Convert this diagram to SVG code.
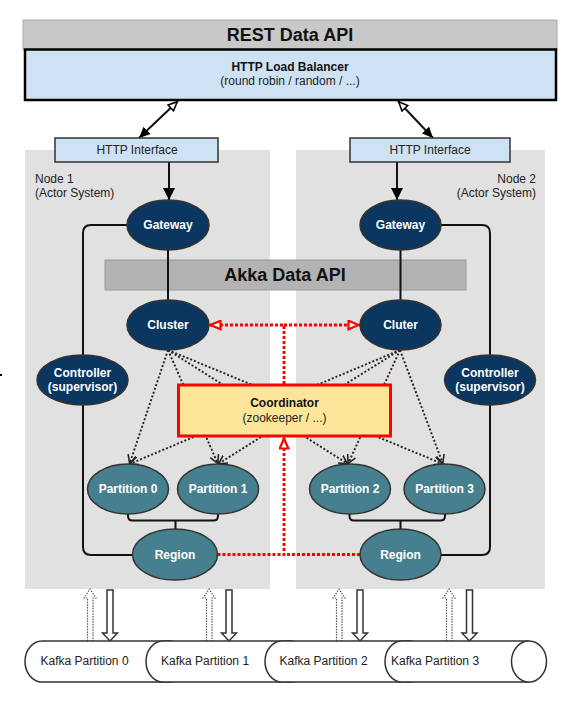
<svg xmlns="http://www.w3.org/2000/svg" width="579" height="701" viewBox="0 0 579 701">
<style>
text{font-family:"Liberation Sans",Arial,Helvetica,sans-serif}
.wb{fill:#fff;font-weight:bold;font-size:12px;text-anchor:middle}
.k{fill:#222;font-size:12px}
.navy{fill:#0b365f;stroke:#333;stroke-width:1.5}
.teal{fill:#467f8d;stroke:#333;stroke-width:1.5}
.solid{fill:none;stroke:#111;stroke-width:2}
.dot{fill:none;stroke:#222;stroke-width:1.9;stroke-dasharray:2 2}
.red{fill:none;stroke:#ff0000;stroke-width:2.8;stroke-dasharray:3 2}
.cyl{fill:#fff;stroke:#333;stroke-width:1.5}
</style>
<defs>
<marker id="fill" markerUnits="userSpaceOnUse" viewBox="0 0 12 12" refX="12" refY="6" markerWidth="12" markerHeight="12" orient="auto"><path d="M0,0 L12,6 L0,12 Z" fill="#000" stroke="none"/></marker>
<marker id="fillS" markerUnits="userSpaceOnUse" viewBox="0 0 11 10" refX="11" refY="5" markerWidth="11" markerHeight="10" orient="auto"><path d="M0,0 L11,5 L0,10 Z" fill="#000" stroke="none"/></marker>
<marker id="openS" markerUnits="userSpaceOnUse" viewBox="0 0 11 10" refX="0" refY="5" markerWidth="11" markerHeight="10" orient="auto"><path d="M1,5 L10,1 L10,9 Z" fill="#fff" stroke="#000" stroke-width="1.6"/></marker>
<marker id="redO" markerUnits="userSpaceOnUse" viewBox="0 0 13 11" refX="13" refY="5.5" markerWidth="13" markerHeight="11" orient="auto"><path d="M1.5,1.2 L11.5,5.5 L1.5,9.8 Z" fill="#fff" stroke="#ff0000" stroke-width="2.2"/></marker>
<marker id="vee" markerUnits="userSpaceOnUse" viewBox="0 0 9 10" refX="9" refY="5" markerWidth="9" markerHeight="10" orient="auto"><path d="M0,0.5 L8.5,5 L0,9.5" fill="none" stroke="#222" stroke-width="1.6"/></marker>
</defs>

<rect x="0" y="374" width="2" height="2" fill="#000"/>

<g id="node1-region"><rect x="25" y="150" width="245" height="439" fill="#e1e1e1"/>
<text x="35" y="183" class="k">Node 1</text><text x="35" y="196.5" class="k">(Actor System)</text></g>
<g id="node2-region"><rect x="296" y="150" width="249" height="439" fill="#e1e1e1"/>
<text x="536" y="183" class="k" text-anchor="end">Node 2</text><text x="536" y="196.5" class="k" text-anchor="end">(Actor System)</text></g>

<g id="rest-api"><rect x="23" y="20" width="534" height="30" fill="#c8c8c8" stroke="#aaa" stroke-width="1"/>
<text x="290" y="41" font-size="18" font-weight="bold" text-anchor="middle" fill="#111">REST Data API</text></g>
<g id="load-balancer"><rect x="25" y="49.5" width="531" height="50.5" fill="#cfe2f3" stroke="#000" stroke-width="2.5"/>
<text x="290" y="71" font-size="12" font-weight="bold" text-anchor="middle" fill="#111">HTTP Load Balancer</text>
<text x="290" y="85" font-size="12" text-anchor="middle" fill="#222">(round robin / random / ...)</text></g>

<g id="akka-api"><rect x="105" y="260" width="361" height="30" fill="#b3b3b3" stroke="#999" stroke-width="1"/>
<text x="285" y="281" font-size="18" font-weight="bold" text-anchor="middle" fill="#111">Akka Data API</text></g>

<g id="connectors">
<path class="solid" d="M178,101 L139,138" stroke-width="1.8" marker-start="url(#openS)" marker-end="url(#fillS)"/>
<path class="solid" d="M398,101 L433,138" stroke-width="1.8" marker-start="url(#openS)" marker-end="url(#fillS)"/>
<path class="solid" d="M169,162 L169,200" marker-end="url(#fill)"/>
<path class="solid" d="M397,162 L397,200" marker-end="url(#fill)"/>
<path class="solid" d="M168,250 L168,300"/>
<path class="solid" d="M400.5,250 L400.5,300"/>
<path class="solid" d="M127,225 L91,225 Q83,225 83,233 L83,547 Q83,555 91,555 L133,555"/>
<path class="solid" d="M441,225 L482,225 Q490,225 490,233 L490,547 Q490,555 482,555 L441,555"/>
<path class="solid" stroke-width="1.7" d="M128,514 L128,516 Q128,520.5 132.5,520.5 L213.5,520.5 Q218,520.5 218,516 L218,514 M175.5,520.5 L175.5,529"/>
<path class="solid" stroke-width="1.7" d="M349.5,514 L349.5,516 Q349.5,520.5 354,520.5 L440.5,520.5 Q445,520.5 445,516 L445,514 M400.5,520.5 L400.5,529"/>
<path class="dot" d="M168,350 L129.5,464" marker-end="url(#vee)"/>
<path class="dot" d="M168,350 L218,464" marker-end="url(#vee)"/>
<path class="dot" d="M168,350 L348,464" marker-end="url(#vee)"/>
<path class="dot" d="M168,350 L443,464" marker-end="url(#vee)"/>
<path class="dot" d="M400,350 L129.5,464" marker-end="url(#vee)"/>
<path class="dot" d="M400,350 L218,464" marker-end="url(#vee)"/>
<path class="dot" d="M400,350 L348,464" marker-end="url(#vee)"/>
<path class="dot" d="M400,350 L443,464" marker-end="url(#vee)"/>
<path class="red" d="M284,384 L284,325 L209,325" marker-end="url(#redO)"/>
<path class="red" d="M284,325 L360,325" marker-end="url(#redO)"/>
<path class="red" d="M217.5,554.5 L284,554.5 L284,437" marker-end="url(#redO)"/>
<path class="red" d="M360,554.5 L284,554.5"/>
<g fill="#fff" stroke="#555" stroke-width="1.2" stroke-dasharray="1.5 1.2">
<path d="M87.5,641 L87.5,598 L84,598 L90,589 L96,598 L93,598 L93,641"/>
<path d="M206.5,641 L206.5,598 L203,598 L209,589 L215,598 L212,598 L212,641"/>
<path d="M336.5,641 L336.5,598 L333,598 L339,589 L345,598 L342,598 L342,641"/>
<path d="M446.5,641 L446.5,598 L443,598 L449,589 L455,598 L452,598 L452,641"/>
</g>
<g fill="#fff" stroke="#333" stroke-width="1.5">
<path d="M107,590 L113,590 L113,633 L117.5,633 L110,641 L102.5,633 L107,633 Z"/>
<path d="M226,590 L232,590 L232,633 L236.5,633 L229,641 L221.5,633 L226,633 Z"/>
<path d="M357,590 L363,590 L363,633 L367.5,633 L360,641 L352.5,633 L357,633 Z"/>
<path d="M466.5,590 L472.5,590 L472.5,633 L477,633 L469.5,641 L462,633 L466.5,633 Z"/>
</g>
</g>

<g id="http-if-1"><rect x="55" y="138" width="163" height="24" fill="#cfe2f3" stroke="#333" stroke-width="1.5"/><text x="137" y="154" class="k" text-anchor="middle">HTTP Interface</text></g>
<g id="http-if-2"><rect x="350" y="138" width="160" height="24" fill="#cfe2f3" stroke="#333" stroke-width="1.5"/><text x="430" y="154" class="k" text-anchor="middle">HTTP Interface</text></g>

<g id="gateway-1"><ellipse cx="168" cy="225" rx="41" ry="25" class="navy"/><text x="168" y="229" class="wb">Gateway</text></g>
<g id="gateway-2"><ellipse cx="400.5" cy="225" rx="40.5" ry="25" class="navy"/><text x="400.5" y="229" class="wb">Gateway</text></g>
<g id="cluster-1"><ellipse cx="168" cy="325" rx="41" ry="25" class="navy"/><text x="168" y="329" class="wb">Cluster</text></g>
<g id="cluster-2"><ellipse cx="400.5" cy="325" rx="40.5" ry="25" class="navy"/><text x="400.5" y="329" class="wb">Cluter</text></g>
<g id="controller-1"><ellipse cx="82.5" cy="380" rx="45.5" ry="25" class="navy"/><text x="82.5" y="377" class="wb">Controller</text><text x="82.5" y="391" class="wb">(supervisor)</text></g>
<g id="controller-2"><ellipse cx="490" cy="380" rx="45.5" ry="25" class="navy"/><text x="490" y="377" class="wb">Controller</text><text x="490" y="391" class="wb">(supervisor)</text></g>

<g id="coordinator"><rect x="178.5" y="385" width="212" height="51" fill="#ffe599" stroke="#ff0000" stroke-width="3"/>
<text x="284.5" y="407" font-size="12" font-weight="bold" text-anchor="middle" fill="#111">Coordinator</text>
<text x="284.5" y="422" font-size="12" text-anchor="middle" fill="#222">(zookeeper / ...)</text></g>

<g id="partition-0"><ellipse cx="128" cy="489" rx="40.5" ry="25" class="teal"/><text x="128" y="493" class="wb">Partition 0</text></g>
<g id="partition-1"><ellipse cx="218" cy="489" rx="40.5" ry="25" class="teal"/><text x="218" y="493" class="wb">Partition 1</text></g>
<g id="partition-2"><ellipse cx="350" cy="489" rx="40.5" ry="25" class="teal"/><text x="350" y="493" class="wb">Partition 2</text></g>
<g id="partition-3"><ellipse cx="444.5" cy="489" rx="40.5" ry="25" class="teal"/><text x="444.5" y="493" class="wb">Partition 3</text></g>
<g id="region-1"><ellipse cx="175" cy="554.5" rx="42.5" ry="25.5" class="teal"/><text x="175" y="558.5" class="wb">Region</text></g>
<g id="region-2"><ellipse cx="400.5" cy="554.5" rx="40.5" ry="25.5" class="teal"/><text x="400.5" y="558.5" class="wb">Region</text></g>

<g id="kafka-0"><path class="cyl" d="M42,641 L170,641 A17,20.5 0 0 1 170,682 L42,682 A17,20.5 0 0 1 42,641 Z"/><path class="cyl" fill="none" d="M170,641 A17,20.5 0 0 0 170,682"/><text x="40.5" y="665" class="k">Kafka Partition 0</text></g>
<g id="kafka-1"><path class="cyl" d="M163,641 L291,641 A17,20.5 0 0 1 291,682 L163,682 A17,20.5 0 0 1 163,641 Z"/><path class="cyl" fill="none" d="M291,641 A17,20.5 0 0 0 291,682"/><text x="161" y="665" class="k">Kafka Partition 1</text></g>
<g id="kafka-2"><path class="cyl" d="M282,641 L410,641 A17,20.5 0 0 1 410,682 L282,682 A17,20.5 0 0 1 282,641 Z"/><path class="cyl" fill="none" d="M410,641 A17,20.5 0 0 0 410,682"/><text x="279.5" y="665" class="k">Kafka Partition 2</text></g>
<g id="kafka-3"><path class="cyl" d="M402,641 L529,641 A17.5,20.5 0 0 1 529,682 L402,682 A17,20.5 0 0 1 402,641 Z"/><path class="cyl" fill="none" d="M529,641 A17.5,20.5 0 0 0 529,682"/><text x="391" y="665" class="k">Kafka Partition 3</text></g>
</svg>
